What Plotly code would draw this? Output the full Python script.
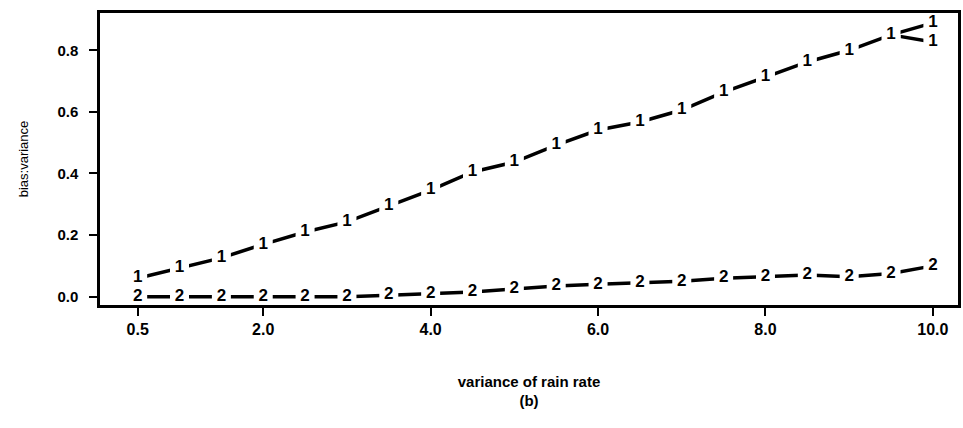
import plotly.graph_objects as go

# ---- data ----
rain_variance = [0.5, 1.0, 1.5, 2.0, 2.5, 3.0, 3.5, 4.0, 4.5, 5.0,
                 5.5, 6.0, 6.5, 7.0, 7.5, 8.0, 8.5, 9.0, 9.5, 10.0]
series1 = [0.06, 0.093, 0.126, 0.17, 0.21, 0.243, 0.295, 0.346, 0.405, 0.437,
           0.492, 0.541, 0.567, 0.606, 0.664, 0.714, 0.762, 0.80, 0.85, 0.889]
series2 = [0.0, 0.0, 0.0, 0.0, 0.0, 0.0, 0.005, 0.01, 0.015, 0.025,
           0.035, 0.04, 0.045, 0.05, 0.06, 0.065, 0.07, 0.065, 0.075, 0.10]
branch1_x = [9.5, 10.0]
branch1_y = [0.85, 0.827]

x_tick_vals = [0.5, 2.0, 4.0, 6.0, 8.0, 10.0]
x_tick_text = ["0.5", "2.0", "4.0", "6.0", "8.0", "10.0"]
y_tick_vals = [0.0, 0.2, 0.4, 0.6, 0.8]
y_tick_text = ["0.0", "0.2", "0.4", "0.6", "0.8"]

FONT = "Liberation Sans, Arial, sans-serif"


def labelled_line(xs, ys, label, show_first=True):
    texts = [label] * len(xs)
    if not show_first:
        texts[0] = ""
    return go.Scatter(
        x=xs, y=ys,
        mode="lines+markers+text",
        line=dict(color="black", width=3.5),
        marker=dict(symbol="square", size=19, color="white",
                    line=dict(width=0)),
        text=texts,
        textposition="middle center",
        textfont=dict(family=FONT, size=17, color="black", weight="bold"),
        showlegend=False,
        hoverinfo="skip",
    )


fig = go.Figure()
fig.add_trace(labelled_line(branch1_x, branch1_y, "1", show_first=False))
fig.add_trace(labelled_line(rain_variance, series2, "2"))
fig.add_trace(labelled_line(rain_variance, series1, "1"))

axis_common = dict(
    showline=True, mirror=True, linecolor="black", linewidth=2.5,
    ticks="outside", ticklen=8, tickwidth=2, tickcolor="black",
    showgrid=False, zeroline=False,
)

fig.update_layout(
    width=963, height=428,
    margin=dict(l=100, r=2, t=13, b=123),
    plot_bgcolor="white", paper_bgcolor="white",
    xaxis=dict(range=[0.05, 10.3], tickvals=x_tick_vals, ticktext=x_tick_text,
               ticklabelstandoff=0,
               tickfont=dict(family=FONT, size=16, color="black", weight="bold"),
               title=dict(text="variance of rain rate<br><span style='line-height:1.3'>(b)</span>",
                          standoff=40,
                          font=dict(family=FONT, size=15, color="black", weight="bold")),
               **axis_common),
    yaxis=dict(range=[-0.027, 0.921], tickvals=y_tick_vals, ticktext=y_tick_text,
               ticklabelstandoff=8,
               tickfont=dict(family=FONT, size=15, color="black", weight="bold"),
               title=dict(text="bias:variance", standoff=26,
                          font=dict(family=FONT, size=13, color="black")),
               **axis_common),
)

fig.write_html("out.html")
